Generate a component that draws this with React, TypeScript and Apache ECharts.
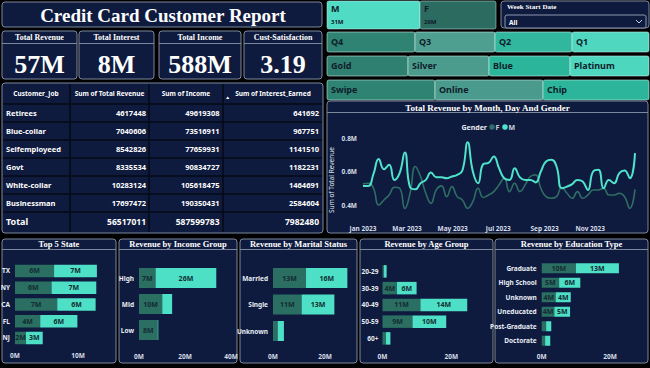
import React, { useEffect, useRef } from "react";
import * as echarts from "echarts";

const SERIF = '"Liberation Serif", "Times New Roman", serif';
const SANS = '"Noto Sans", "Open Sans", sans-serif';

// ---------- data ----------
const reportTitle = "Credit Card Customer Report";
const kpiLabels = ["Total Revenue", "Total Interest", "Total Income", "Cust-Satisfaction"];
const kpiValues = ["57M", "8M", "588M", "3.19"];

const tableHeaders = ["Customer_Job", "Sum of Total Revenue", "Sum of Income", "Sum of Interest_Earned"];
const jobs = ["Retirees", "Blue-collar", "Selfemployeed", "Govt", "White-collar", "Businessman"];
const jobRevenue = [4617448, 7040606, 8542826, 8335534, 10283124, 17697472];
const jobIncome = [49619308, 73516911, 77659931, 90834727, 105618475, 190350431];
const jobInterest = [641692, 967751, 1141510, 1182231, 1464691, 2584604];
const totalLabel = "Total";
const totalValues = [56517011, 587599783, 7982480];

const genderLabels = ["M", "F"];
const genderRevenue = ["31M", "26M"];
const weekSlicerTitle = "Week Start Date";
const weekSlicerValue = "All";
const quarters = ["Q4", "Q3", "Q2", "Q1"];
const cardTypes = ["Gold", "Silver", "Blue", "Platinum"];
const useChips = ["Swipe", "Online", "Chip"];

const lineTitle = "Total Revenue by Month, Day And Gender";
const legendTitle = "Gender";
const weeks = [
  "2023-01-01", "2023-01-08", "2023-01-15", "2023-01-22", "2023-01-29",
  "2023-02-05", "2023-02-12", "2023-02-19", "2023-02-26",
  "2023-03-05", "2023-03-12", "2023-03-19", "2023-03-26",
  "2023-04-02", "2023-04-09", "2023-04-16", "2023-04-23", "2023-04-30",
  "2023-05-07", "2023-05-14", "2023-05-21", "2023-05-28",
  "2023-06-04", "2023-06-11", "2023-06-18", "2023-06-25",
  "2023-07-02", "2023-07-09", "2023-07-16", "2023-07-23", "2023-07-30",
  "2023-08-06", "2023-08-13", "2023-08-20", "2023-08-27",
  "2023-09-03", "2023-09-10", "2023-09-17", "2023-09-24",
  "2023-10-01", "2023-10-08", "2023-10-15", "2023-10-22", "2023-10-29",
  "2023-11-05", "2023-11-12", "2023-11-19", "2023-11-26",
  "2023-12-03", "2023-12-10", "2023-12-17", "2023-12-24", "2023-12-31",
];
const revenueM = [
  0.514, 0.514, 0.585, 0.675, 0.614, 0.64, 0.55, 0.59, 0.714, 0.506,
  0.494, 0.53, 0.55, 0.594, 0.566, 0.566, 0.56, 0.57, 0.58, 0.606,
  0.774, 0.6, 0.53, 0.645, 0.652, 0.69, 0.62, 0.56, 0.55, 0.62,
  0.565, 0.55, 0.55, 0.535, 0.6, 0.66, 0.67, 0.63, 0.5, 0.51,
  0.525, 0.55, 0.54, 0.49, 0.6, 0.61, 0.5, 0.55, 0.53, 0.59,
  0.606, 0.56, 0.71,
];
const revenueF = [
  0.526, 0.53, 0.5, 0.4, 0.43, 0.46, 0.506, 0.5, 0.38, 0.47,
  0.63, 0.57, 0.47, 0.41, 0.49, 0.514, 0.45, 0.51, 0.45, 0.43,
  0.38, 0.42, 0.5, 0.445, 0.46, 0.48, 0.52, 0.56, 0.48, 0.53,
  0.48, 0.52, 0.57, 0.58, 0.5, 0.45, 0.44, 0.45, 0.506, 0.47,
  0.44, 0.48, 0.44, 0.46, 0.49, 0.49, 0.5, 0.46, 0.46, 0.47,
  0.45, 0.38, 0.494,
];
const lineYTicks = [0.4, 0.6, 0.8];
const lineXTicks = ["2023-01-01", "2023-03-01", "2023-05-01", "2023-07-01", "2023-09-01", "2023-11-01"];
const lineRange = ["2023-01-01", "2023-12-31"];
const yAxisName = "Sum of Total Revenue";
const MONTHS = ["Jan", "Feb", "Mar", "Apr", "May", "Jun", "Jul", "Aug", "Sep", "Oct", "Nov", "Dec"];

const states = ["TX", "NY", "CA", "FL", "NJ"];
const stateF = [6.2, 5.8, 6.7, 4.0, 1.75];
const stateM = [6.8, 7.1, 6.1, 5.9, 2.65];
const stateTicks = [0, 10];

const incomeGroups = ["High", "Mid", "Low"];
const incomeF = [7.2, 10.1, 8.1];
const incomeM = [26.4, 4.3, 0.3];
const incomeTicks = [0, 20, 40];

const maritalStatus = ["Married", "Single", "Unknown"];
const maritalF = [12.7, 11.0, 1.8];
const maritalM = [15.9, 12.6, 2.4];
const maritalTicks = [0, 20];

const ageGroups = ["20-29", "30-39", "40-49", "50-59", "60+"];
const ageF = [0.4, 4.2, 11.0, 8.7, 1.0];
const ageM = [0.8, 5.7, 13.6, 9.8, 1.3];
const ageTicks = [0, 20];

const eduTypes = ["Graduate", "High School", "Unknown", "Uneducated", "Post-Graduate", "Doctorate"];
const eduF = [10.0, 5.1, 4.1, 3.7, 1.3, 1.0];
const eduM = [12.6, 6.2, 4.4, 4.6, 1.5, 1.5];
const eduTicks = [0, 20];

// ---------- styles ----------
const NAVY = "#0f1b3e";
const BORDER = "#7d879c";
const DIVIDER = "#050a16";
const DARK = "#2b6e62";
const BRIGHT = "#4ee0c6";
const LINE_M = "#4fe3cb";
const LINE_F = "#2f6e64";
const LABEL_DARK = "#122c33";
const AXIS_TXT = "#d6dde8";

const ts = (s: string) => new Date(s + "T00:00:00").getTime();

const rect = (x: number, y: number, w: number, h: number, fill: string, stroke?: string, r = 3, z = -5) => ({
  type: "rect",
  shape: { x, y, width: w, height: h, r },
  style: { fill, stroke: stroke || "none", lineWidth: stroke ? 1 : 0 },
  z,
  silent: true,
});
const text = (x: number, y: number, t: string, font: string, fill: string, align = "left", z = 50) => ({
  type: "text",
  x,
  y,
  style: { text: t, font, fill, align, verticalAlign: "middle" },
  z,
  silent: true,
});
const line = (x1: number, y1: number, x2: number, y2: number, stroke: string, w = 1, z = -4) => ({
  type: "line",
  shape: { x1, y1, x2, y2 },
  style: { stroke, lineWidth: w },
  z,
  silent: true,
});

function buildGraphics() {
  const g: any[] = [];
  g.push(rect(2, 2, 320, 25, NAVY, BORDER));
  g.push(text(163, 15, reportTitle, `bold 19px ${SERIF}`, "#ffffff", "center"));

  const kpiBoxes = [[2, 77], [79, 154], [159, 241], [244, 322]];
  kpiBoxes.forEach(([x0, x1], i) => {
    g.push(rect(x0, 31, x1 - x0, 48, NAVY, BORDER));
    g.push(line(x0, 43.5, x1, 43.5, BORDER, 1));
    g.push(text((x0 + x1) / 2, 37, kpiLabels[i], `bold 8px ${SERIF}`, "#ffffff", "center"));
    g.push(text((x0 + x1) / 2, 64, kpiValues[i], `bold 26px ${SERIF}`, "#ffffff", "center"));
  });

  g.push(rect(2, 83, 321, 150, NAVY, BORDER));
  [70, 149, 223].forEach((x) => g.push(line(x, 84, x, 232, DIVIDER, 1.5)));
  [104, 122, 140, 158, 176, 194, 212].forEach((y) => g.push(line(3, y, 322, y, DIVIDER, 1.5)));
  const headX = [36, 109.5, 186, 273];
  tableHeaders.forEach((h, i) => g.push(text(headX[i], 93, h, `bold 6.5px ${SANS}`, "#ffffff", "center")));
  g.push({ type: "polygon", shape: { points: [[226, 99], [229.5, 99], [227.75, 96.5]] }, style: { fill: "#ffffff" }, z: 50, silent: true });
  const numX = [146, 219.5, 319];
  jobs.forEach((j, i) => {
    const y = 113 + i * 18;
    g.push(text(6, y, j, `bold 7.5px ${SANS}`, "#ffffff", "left"));
    g.push(text(numX[0], y, String(jobRevenue[i]), `bold 7.5px ${SANS}`, "#ffffff", "right"));
    g.push(text(numX[1], y, String(jobIncome[i]), `bold 7.5px ${SANS}`, "#ffffff", "right"));
    g.push(text(numX[2], y, String(jobInterest[i]), `bold 7.5px ${SANS}`, "#ffffff", "right"));
  });
  g.push(text(6, 221.5, totalLabel, `bold 9px ${SANS}`, "#ffffff", "left"));
  totalValues.forEach((v, i) => g.push(text(numX[i], 221.5, String(v), `bold 8.5px ${SANS}`, "#ffffff", "right")));

  const gX = [327, 420, 496];
  const gColors = ["#50dcc4", "#2c6b5f"];
  genderLabels.forEach((lb, i) => {
    g.push(rect(gX[i], 1, gX[i + 1] - gX[i], 28, gColors[i], "rgba(200,235,228,0.5)", 2));
    g.push(text(gX[i] + 4, 8, lb, `bold 9px ${SANS}`, "#0f1d2b", "left"));
    g.push(text(gX[i] + 4, 21.5, genderRevenue[i], `bold 6px ${SANS}`, "#0f1d2b", "left"));
  });

  g.push(rect(501, 1, 148, 27, NAVY, BORDER));
  g.push(text(507, 7, weekSlicerTitle, `bold 7px ${SERIF}`, "#ffffff", "left"));
  g.push(rect(505, 15, 141, 13, NAVY, "#8d97ad", 2));
  g.push(text(509, 22, weekSlicerValue, `bold 6.5px ${SANS}`, "#ffffff", "left"));
  g.push({ type: "polyline", shape: { points: [[636, 20], [639, 23], [642, 20]] }, style: { stroke: "#c8d0de", lineWidth: 1, fill: "none" }, z: 50, silent: true });

  const rows: [string[], number[], string[], number, number][] = [
    [quarters, [327, 415, 495, 572, 649], ["#2e8372", "#4e9f90", "#30b79d", "#4fd8bf"], 32, 20],
    [cardTypes, [327, 408, 489, 570, 649], ["#2f8070", "#4c9c8e", "#2bb69b", "#4cd7be"], 56, 20],
    [useChips, [327, 435, 543, 649], ["#2e8372", "#4a9b8d", "#2cb59a"], 80, 20],
  ];
  rows.forEach(([labels, xs, colors, y, h]) => {
    labels.forEach((lb, i) => {
      g.push(rect(xs[i], y, xs[i + 1] - xs[i], h, colors[i], "rgba(210,240,233,0.55)", 2));
      g.push(text(xs[i] + 4, y + h / 2 - 0.5, lb, `bold 9px ${SANS}`, "#0f1d2b", "left"));
    });
  });

  g.push(rect(327, 101, 321, 132, NAVY, BORDER));
  g.push(line(327, 112.5, 648, 112.5, BORDER, 1));
  g.push(text(487.5, 107.5, lineTitle, `bold 9px ${SERIF}`, "#ffffff", "center"));
  g.push(text(487, 127, legendTitle, `bold 7px ${SANS}`, "#e6ebf2", "right"));
  g.push({ type: "circle", shape: { cx: 492, cy: 127, r: 2.8 }, style: { fill: LINE_F }, z: 50, silent: true });
  g.push(text(495.5, 127, "F", `bold 7px ${SANS}`, "#c9d2de", "left"));
  g.push({ type: "circle", shape: { cx: 505, cy: 127, r: 2.8 }, style: { fill: LINE_M }, z: 50, silent: true });
  g.push(text(508.5, 127, "M", `bold 7px ${SANS}`, "#c9d2de", "left"));
  g.push({
    type: "text",
    x: 331.5,
    y: 180,
    rotation: Math.PI / 2,
    style: { text: yAxisName, font: `6.5px ${SANS}`, fill: "#dfe6ef", align: "center", verticalAlign: "middle" },
    z: 50,
    silent: true,
  });

  const bp = [[2, 116], [119, 237], [240, 357], [360, 493], [495, 648]];
  const titles = ["Top 5 State", "Revenue by Income Group", "Revenue by Marital Status", "Revenue by Age Group", "Revenue by Education Type"];
  bp.forEach(([x0, x1], i) => {
    g.push(rect(x0, 239, x1 - x0, 124, NAVY, BORDER));
    g.push(line(x0, 249.5, x1, 249.5, BORDER, 1));
    g.push(text((x0 + x1) / 2, 243.8, titles[i], `bold 8.5px ${SERIF}`, "#ffffff", "center"));
  });
  return g;
}

type BarCfg = {
  cats: string[];
  f: number[];
  m: number[];
  ticks: number[];
  max: number;
  left: number;
  top: number;
  width: number;
  height: number;
  barWidth: number;
  minLabel: number;
  labelMargin: number;
  catMargin: number;
};

const barCharts: BarCfg[] = [
  { cats: states, f: stateF, m: stateM, ticks: stateTicks, max: 15, left: 15, top: 262.6, width: 94.5, height: 83.75, barWidth: 12.5, minLabel: 1.5, labelMargin: 6, catMargin: 5 },
  { cats: incomeGroups, f: incomeF, m: incomeM, ticks: incomeTicks, max: 40, left: 139, top: 265, width: 92, height: 78, barWidth: 20, minLabel: 5, labelMargin: 9.5, catMargin: 5 },
  { cats: maritalStatus, f: maritalF, m: maritalM, ticks: maritalTicks, max: 30, left: 273, top: 264.75, width: 78, height: 79.5, barWidth: 20, minLabel: 5, labelMargin: 8.5, catMargin: 5 },
  { cats: ageGroups, f: ageF, m: ageM, ticks: ageTicks, max: 27, left: 382.5, top: 263, width: 93, height: 83.75, barWidth: 12.5, minLabel: 3, labelMargin: 6, catMargin: 4 },
  { cats: eduTypes, f: eduF, m: eduM, ticks: eduTicks, max: 30, left: 541.7, top: 261, width: 102.5, height: 87, barWidth: 10, minLabel: 3, labelMargin: 4.5, catMargin: 5 },
];

function buildOption() {
  const grid: any[] = [];
  const xAxis: any[] = [];
  const yAxis: any[] = [];
  const series: any[] = [];

  barCharts.forEach((c, i) => {
    grid.push({ left: c.left, top: c.top, width: c.width, height: c.height, containLabel: false, outerBoundsMode: "none" });
    xAxis.push({
      type: "value",
      gridIndex: i,
      min: 0,
      max: c.max,
      axisLine: { show: false },
      axisTick: { show: false },
      splitLine: { show: false },
      axisLabel: {
        customValues: c.ticks,
        formatter: (v: number) => `${v}M`,
        color: AXIS_TXT,
        fontSize: 6.5,
        fontWeight: "bold",
        fontFamily: SANS,
        margin: c.labelMargin,
      },
    });
    yAxis.push({
      type: "category",
      gridIndex: i,
      data: c.cats,
      inverse: true,
      axisLine: { show: false },
      axisTick: { show: false },
      splitLine: { show: false },
      axisLabel: { color: "#e8edf5", fontSize: 6.5, fontWeight: "bold", fontFamily: SANS, margin: c.catMargin },
    });
    const lbl = {
      show: true,
      position: "inside",
      color: LABEL_DARK,
      fontSize: 7,
      fontWeight: "bold",
      fontFamily: SANS,
      formatter: (p: any) => (p.value >= c.minLabel ? `${Math.round(p.value)}M` : ""),
    };
    series.push({ type: "bar", name: "F", stack: "s" + i, xAxisIndex: i, yAxisIndex: i, data: c.f, barWidth: c.barWidth, itemStyle: { color: DARK }, label: lbl, silent: true });
    series.push({ type: "bar", name: "M", stack: "s" + i, xAxisIndex: i, yAxisIndex: i, data: c.m, barWidth: c.barWidth, itemStyle: { color: BRIGHT }, label: lbl, silent: true });
  });

  const li = barCharts.length;
  grid.push({ left: 363, top: 138, width: 272, height: 83.75, containLabel: false, outerBoundsMode: "none" });
  xAxis.push({
    type: "value",
    gridIndex: li,
    min: ts(lineRange[0]),
    max: ts(lineRange[1]),
    axisLine: { show: false },
    axisTick: { show: false },
    splitLine: { show: false },
    axisLabel: {
      customValues: lineXTicks.map(ts),
      formatter: (v: number) => {
        const d = new Date(v);
        return `${MONTHS[d.getMonth()]} ${d.getFullYear()}`;
      },
      color: AXIS_TXT,
      fontSize: 6.5,
      fontWeight: "bold",
      fontFamily: SANS,
      margin: 3,
      hideOverlap: false,
    },
  });
  yAxis.push({
    type: "value",
    gridIndex: li,
    min: 0.3,
    max: 0.8,
    axisLine: { show: false },
    axisTick: { show: false },
    splitLine: { show: false },
    axisLabel: {
      customValues: lineYTicks,
      formatter: (v: number) => `${v.toFixed(1)}M`,
      color: AXIS_TXT,
      fontSize: 6.5,
      fontWeight: "bold",
      fontFamily: SANS,
      margin: 6,
    },
  });
  series.push({
    type: "line",
    name: "F",
    xAxisIndex: li,
    yAxisIndex: li,
    data: weeks.map((w, i) => [ts(w), revenueF[i]]),
    smooth: 0.5,
    showSymbol: false,
    lineStyle: { color: LINE_F, width: 1.6 },
    itemStyle: { color: LINE_F },
    silent: true,
  });
  series.push({
    type: "line",
    name: "M",
    xAxisIndex: li,
    yAxisIndex: li,
    data: weeks.map((w, i) => [ts(w), revenueM[i]]),
    smooth: 0.5,
    showSymbol: false,
    lineStyle: { color: LINE_M, width: 2 },
    itemStyle: { color: LINE_M },
    silent: true,
  });

  return {
    animation: false,
    backgroundColor: "#000000",
    grid,
    xAxis,
    yAxis,
    series,
    graphic: { elements: buildGraphics() },
  };
}

export default function App() {
  const ref = useRef<HTMLDivElement>(null);
  useEffect(() => {
    document.body.style.margin = "0";
    document.body.style.background = "#000";
    if (!ref.current) return;
    const chart = echarts.init(ref.current, undefined, { renderer: "svg", width: 650, height: 368 });
    chart.setOption(buildOption() as any);
    return () => chart.dispose();
  }, []);
  return <div ref={ref} style={{ width: 650, height: 368, position: "absolute", left: 0, top: 0 }} />;
}
